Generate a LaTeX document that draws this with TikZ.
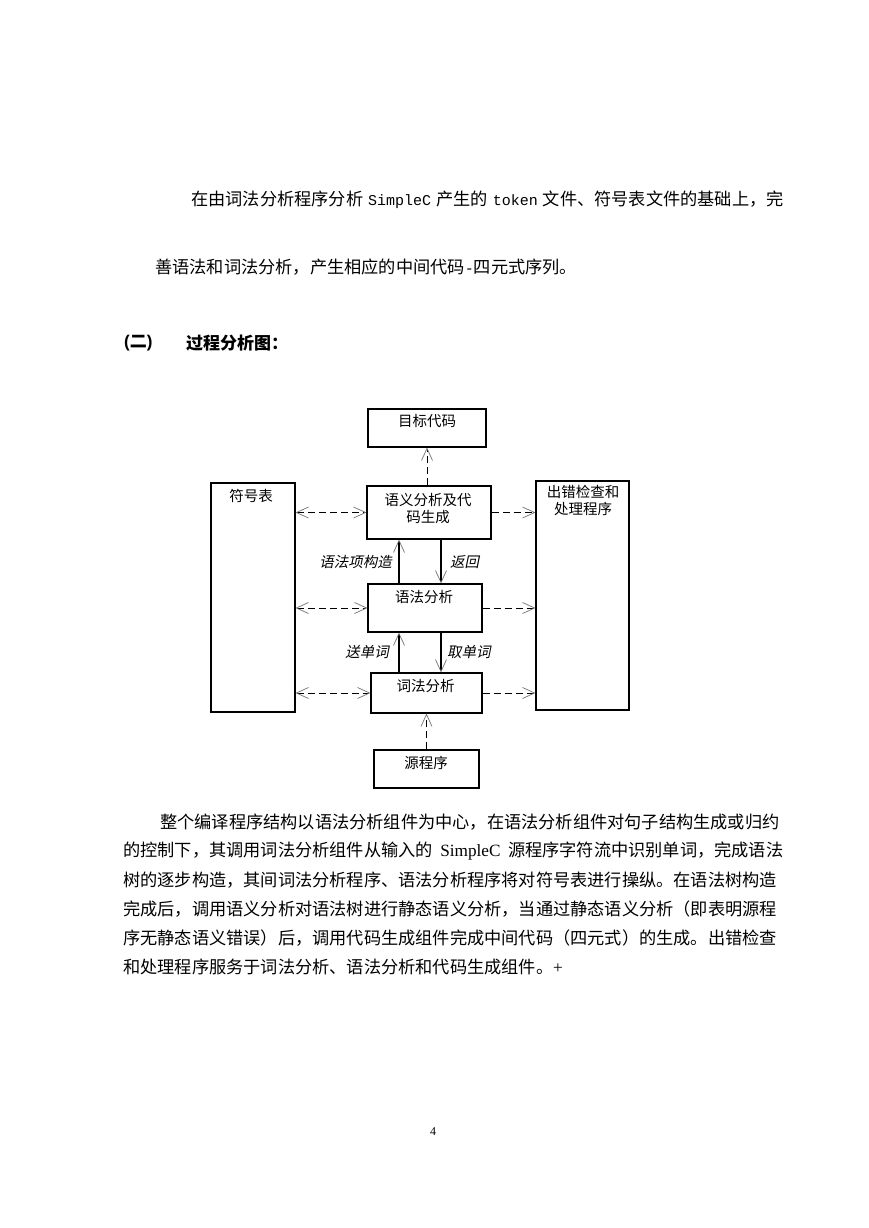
\documentclass[tikz,border=0pt]{standalone}
\usepackage{fontspec}
\usetikzlibrary{arrows.meta,calc}
\newfontfamily\cjk{Noto Sans CJK SC}
\newfontfamily\cjkit[FakeSlant=0.2]{Noto Sans CJK SC}
\newfontfamily\serifL{Liberation Serif}
\newfontfamily\monoL{Liberation Mono}
\newfontfamily\sansL{Liberation Sans}
\XeTeXlinebreaklocale "zh"
\XeTeXlinebreakskip=0pt plus 4pt minus 1.5pt
\newcommand\monow[1]{{\monoL\fontsize{15pt}{17pt}\selectfont #1}}
\tikzset{
  mytip/.tip={Straight Barb[length=12pt,width=11pt,line width=0.7pt,color=black!55]},
  box/.style={draw, line width=1.2pt, inner sep=0pt, fill=white},
  lbl/.style={font=\cjk\fontsize{14.5pt}{17pt}\selectfont, inner sep=0pt, align=center},
  itl/.style={font=\cjkit\fontsize{14.5pt}{17pt}\selectfont, inner sep=0pt},
  sarr/.style={line width=1.1pt, -mytip},
  darr/.style={line width=1pt, dash pattern=on 7pt off 4pt, -mytip},
  ddarr/.style={line width=1pt, dash pattern=on 7pt off 4pt, mytip-mytip},
  bodyline/.style={inner sep=0pt, anchor=west, font=\cjk\fontsize{17.2pt}{20pt}\selectfont},
}
\begin{document}
\begin{tikzpicture}[x=1pt,y=-1pt]
\fill[white] (0,0) rectangle (869,1228);
\useasboundingbox (0,0) rectangle (869,1228);

% ---- top paragraph ----
\node[bodyline] (t1) at (191,200) {\hbox to 591pt{在由词法分析程序分析\hspace{5pt}\monow{SimpleC}\hspace{5pt}产生的\hspace{5pt}\monow{token}\hspace{5pt}文件、符号表文件的基础上，完}};
\node[bodyline] (t2) at (155,267) {善语法和词法分析，产生相应的中间代码\monow{-}四元式序列。};

% ---- heading ----
\node[bodyline, font=\cjk\bfseries\fontsize{17pt}{20pt}\selectfont] (h1) at (124,343) {{\sansL\bfseries (}二{\sansL\bfseries )}};
\node[bodyline, font=\cjk\bfseries\fontsize{17pt}{20pt}\selectfont] (h2) at (186,343) {过程分析图：};

% ---- diagram boxes ----
\node[box, minimum width=118pt, minimum height=38pt] (tgt) at (427,428) {};
\node[box, minimum width=124pt, minimum height=53pt] (sem) at (429,512.5) {};
\node[box, minimum width=114pt, minimum height=48pt] (syn) at (425,608) {};
\node[box, minimum width=111pt, minimum height=40pt] (lex) at (426.5,693) {};
\node[box, minimum width=105pt, minimum height=38pt] (src) at (426.5,769) {};
\node[box, minimum width=84pt, minimum height=229pt] (sym) at (253,597.5) {};
\node[box, minimum width=93pt, minimum height=229pt] (err) at (582.5,595.5) {};

% box texts
\node[lbl] (tgtT) at (427,421) {目标代码};
\node[lbl] (semT) at (428,508.5) {语义分析及代\\码生成};
\node[lbl] (synT) at (424,597) {语法分析};
\node[lbl] (lexT) at (425.5,686) {词法分析};
\node[lbl] (srcT) at (426,763) {源程序};
\node[lbl] (symT) at (251,496) {符号表};
\node[lbl] (errT) at (583,500.5) {出错检查和\\处理程序};

% columns for vertical arrows
\coordinate (colL) at (399,0);
\coordinate (colR) at (441,0);

% dashed vertical arrows
\draw[darr] (tgt.south |- sem.north) -- (tgt.south);
\draw[darr] (src.north) -- (lex.south);

% symbol table double arrows
\draw[ddarr] (sym.east |- sem.west) -- (sem.west);
\draw[ddarr] (sym.east |- syn.west) -- (syn.west);
\draw[ddarr] (sym.east |- lex.west) -- (lex.west);

% error handler arrows
\draw[darr] (sem.east) -- (err.west |- sem.east);
\draw[darr] (syn.east) -- (err.west |- syn.east);
\draw[darr] (lex.east) -- (err.west |- lex.east);

% solid vertical arrows
\draw[sarr] (syn.north -| colL) -- (sem.south -| colL);
\draw[sarr] (sem.south -| colR) -- (syn.north -| colR);
\draw[sarr] (lex.north -| colL) -- (syn.south -| colL);
\draw[sarr] (syn.south -| colR) -- (lex.north -| colR);

% arrow labels
\node[itl, anchor=east] (l1) at (392,562) {语法项构造};
\node[itl, anchor=west] (l2) at (450,562) {返回};
\node[itl, anchor=east] (l3) at (389,652) {送单词};
\node[itl, anchor=west] (l4) at (447,652) {取单词};

% ---- bottom paragraph ----
\node[bodyline] (p1) at (160,822) {\hbox to 623pt{整个编译程序结构以语法分析组件为中心，在语法分析组件对句子结构生成或归约}};
\node[bodyline] (p2) at (123,851) {\hbox to 660pt{的控制下，其调用词法分析组件从输入的{\serifL\ SimpleC }源程序字符流中识别单词，完成语法}};
\node[bodyline] (p3) at (123,880) {\hbox to 660pt{树的逐步构造，其间词法分析程序、语法分析程序将对符号表进行操纵。在语法树构造}};
\node[bodyline] (p4) at (123,909) {\hbox to 660pt{完成后，调用语义分析对语法树进行静态语义分析，当通过静态语义分析（即表明源程}};
\node[bodyline] (p5) at (123,938) {\hbox to 660pt{序无静态语义错误）后，调用代码生成组件完成中间代码（四元式）的生成。出错检查}};
\node[bodyline] (p6) at (123,967) {和处理程序服务于词法分析、语法分析和代码生成组件。{\serifL +}};

% page number
\node[inner sep=0pt, font=\serifL\fontsize{12pt}{14pt}\selectfont] (pg) at (433,1132) {4};
\end{tikzpicture}
\end{document}
